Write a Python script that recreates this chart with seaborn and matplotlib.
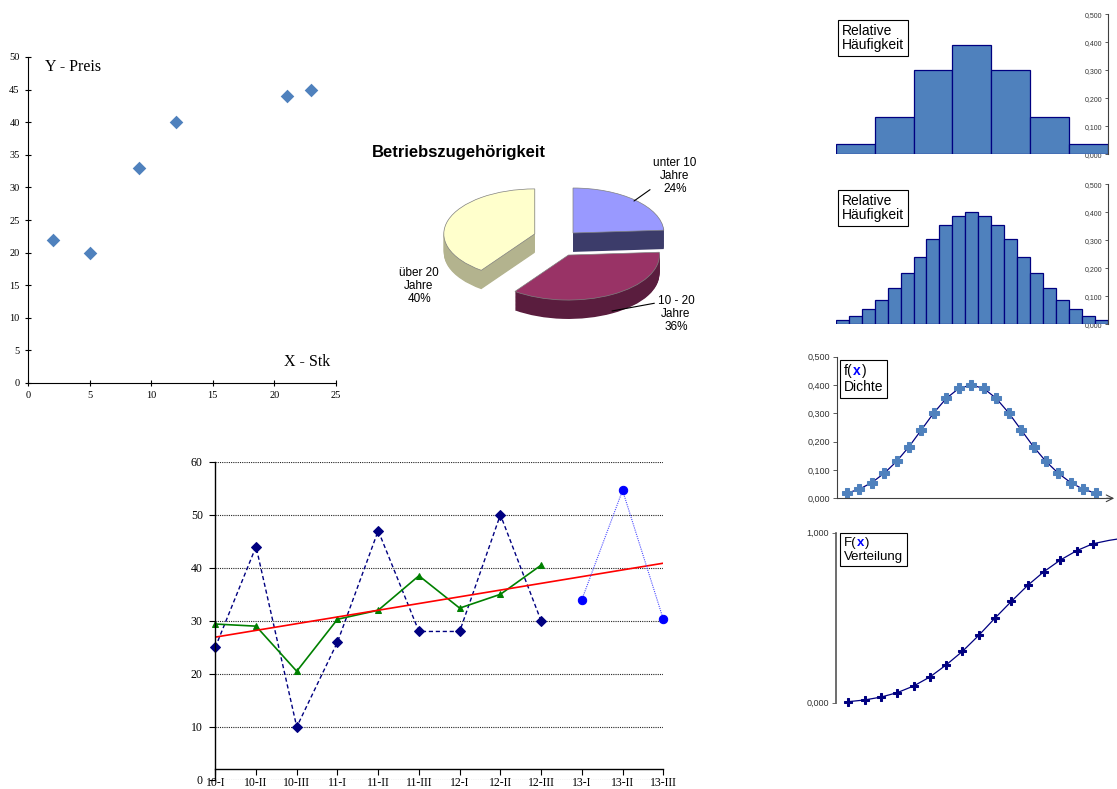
import numpy as np
import matplotlib
matplotlib.use('Agg')
import matplotlib.pyplot as plt
import seaborn as sns
from matplotlib.ticker import FuncFormatter
from matplotlib.offsetbox import TextArea, HPacker, VPacker, AnchoredOffsetbox

# Daten
scatter_x = [2, 5, 9, 12, 21, 23]
scatter_y = [22, 20, 33, 40, 44, 45]

pie_values = [24, 36, 40]
pie_labels = ['unter 10\nJahre\n24%', '10 - 20\nJahre\n36%', 'über 20\nJahre\n40%']

hist_grob = [0.035, 0.133, 0.300, 0.392, 0.300, 0.133, 0.035]
hist_fein = [0.016, 0.031, 0.054, 0.087, 0.129, 0.182, 0.242, 0.303, 0.354, 0.388, 0.400,
             0.388, 0.354, 0.303, 0.242, 0.182, 0.129, 0.087, 0.054, 0.031, 0.016]
dichte = [0.018, 0.032, 0.055, 0.088, 0.130, 0.182, 0.242, 0.302, 0.353, 0.388, 0.400,
          0.388, 0.353, 0.302, 0.242, 0.182, 0.130, 0.088, 0.055, 0.032, 0.018]
verteilung = [0.006, 0.016, 0.033, 0.059, 0.098, 0.151, 0.222, 0.302, 0.396, 0.498,
              0.596, 0.690, 0.771, 0.839, 0.894, 0.935, 0.955, 0.970]

quartale = ['10-I', '10-II', '10-III', '11-I', '11-II', '11-III',
            '12-I', '12-II', '12-III', '13-I', '13-II', '13-III']
ist_werte = [25, 44, 10, 26, 47, 28, 28, 50, 30]
geglaettet = [29.4, 29.0, 20.5, 30.3, 32.0, 38.5, 32.4, 35.0, 40.5]
prognose = [34.0, 54.6, 30.3]

sns.set_theme(style='white')
plt.rcParams['font.family'] = ['Liberation Sans', 'DejaVu Sans']
plt.rcParams['text.color'] = 'black'
SERIF = 'Liberation Serif'

W, H = 1117, 789
fig = plt.figure(figsize=(W / 100, H / 100), dpi=100, facecolor='white')


def ax_px(l, t, r, b):
    return fig.add_axes([l / W, 1 - b / H, (r - l) / W, (b - t) / H])


komma = FuncFormatter(lambda v, _: f'{v:.3f}'.replace('.', ','))

# Streudiagramm
ax1 = ax_px(28, 57, 336, 383)
sns.scatterplot(x=scatter_x, y=scatter_y, marker='D', s=48, color='#4F81BD', linewidth=0, ax=ax1)
ax1.set_xlim(0, 25)
ax1.set_ylim(0, 50)
ax1.set_xticks(range(0, 26, 5))
ax1.set_yticks(range(0, 51, 5))
ax1.spines[['top', 'right']].set_visible(False)
for s in ('left', 'bottom'):
    ax1.spines[s].set_color('black')
    ax1.spines[s].set_linewidth(0.8)
ax1.tick_params(left=True, bottom=True, direction='inout', length=4, width=0.8,
                labelsize=7.5, pad=4, colors='black', labelfontfamily=SERIF)
ax1.text(0.055, 0.969, 'Y - Preis', transform=ax1.transAxes, family=SERIF, fontsize=11.5, va='center')
ax1.text(0.98, 0.064, 'X - Stk', transform=ax1.transAxes, family=SERIF, fontsize=11.5,
         va='center', ha='right')

# 3D-Kreisdiagramm
ax2 = ax_px(380, 140, 720, 345)
RX, RY, CX, CY = 91, 45, 573, 233
pie_top = ['#9999FF', '#993366', '#FFFFCC']
pie_side = ['#3C3C6A', '#5A1D3E', '#B3B38E']
pie_shift = [(0, 0), (-0.05, -0.49), (-0.42, -0.02)]
tiefe, n = 0.42, 24
for k in range(n, -1, -1):
    d = tiefe * k / n
    oben = k == 0
    wedges, _ = ax2.pie(pie_values, startangle=90, counterclock=False,
                        colors=pie_top if oben else pie_side,
                        wedgeprops=dict(linewidth=0.5 if oben else 0, edgecolor='#808080'))
    for w, (sx, sy) in zip(wedges, pie_shift):
        w.set_center((sx, sy - d))
ax2.set_aspect('auto')
ax2.set_xlim((380 - CX) / RX, (720 - CX) / RX)
ax2.set_ylim(-(345 - CY) / RY, (CY - 140) / RY)
ax2.axis('off')


def pxd(px, py):
    return ((px - CX) / RX, (CY - py) / RY)


lbl = dict(ha='center', va='center', fontsize=8.5, linespacing=1.1, color='black')
ax2.annotate(pie_labels[0], xy=pxd(634, 201), xytext=pxd(675, 176), **lbl,
             arrowprops=dict(arrowstyle='-', color='black', lw=0.8, relpos=(0, 0.2), shrinkA=0, shrinkB=0))
ax2.annotate(pie_labels[1], xy=pxd(612, 311), xytext=pxd(676, 314), **lbl,
             arrowprops=dict(arrowstyle='-', color='black', lw=0.8, relpos=(0, 0.8), shrinkA=0, shrinkB=0))
ax2.text(*pxd(419, 286), pie_labels[2], **lbl)
fig.text(372 / W, 1 - 152 / H, 'Betriebszugehörigkeit', fontsize=12, weight='bold', va='center',
         color='black')

# Histogramme
for werte, (t, b) in ((hist_grob, (14.3, 154.3)), (hist_fein, (184.3, 324.3))):
    ax = ax_px(835.7, t, 1108, b)
    sns.barplot(x=np.arange(len(werte)), y=werte, color='#4F81BD', saturation=1, width=1,
                edgecolor='#000080', linewidth=0.9, errorbar=None, ax=ax)
    ax.set_xlim(-0.5, len(werte) - 0.5)
    ax.set_ylim(0, 0.5)
    ax.set_yticks(np.arange(0, 0.51, 0.1))
    ax.yaxis.set_major_formatter(komma)
    ax.set_xticks([])
    ax.set(xlabel='', ylabel='')
    ax.spines[['top', 'right', 'bottom']].set_visible(False)
    ax.spines['left'].set_position(('axes', 1.0))
    ax.spines['left'].set_color('#404040')
    ax.spines['left'].set_linewidth(0.8)
    ax.tick_params(axis='y', left=True, direction='out', length=2.5, width=0.6,
                   labelsize=5, pad=1.5, colors='#404040', labelcolor='#333333')
    ax.text(0.023, 0.93, 'Relative\nHäufigkeit', transform=ax.transAxes, ha='left', va='top',
            fontsize=10, linespacing=1.0,
            bbox=dict(boxstyle='square,pad=0.3', fc='white', ec='black', lw=0.8))


def fx_box(ax, buchstabe, wort, size, xy):
    props = dict(fontsize=size, color='black')
    zeile = HPacker(children=[TextArea(buchstabe + '(', textprops=props),
                              TextArea('x', textprops=dict(props, color='#0000FF', weight='bold')),
                              TextArea(')', textprops=props)],
                    pad=0, sep=0.5, align='baseline')
    spalte = VPacker(children=[zeile, TextArea(wort, textprops=props)], pad=0, sep=1.5, align='left')
    box = AnchoredOffsetbox(loc='upper left', child=spalte, pad=0.25, borderpad=0, frameon=True,
                            bbox_to_anchor=xy, bbox_transform=ax.transAxes)
    box.patch.set_edgecolor('black')
    box.patch.set_linewidth(0.8)
    box.zorder = 5
    ax.add_artist(box)


# Dichte
ax5 = ax_px(837.3, 356.7, 1112, 498.3)
sns.lineplot(x=np.arange(len(dichte)), y=dichte, color='#000080', lw=0.9, marker='P',
             markersize=6.5, markerfacecolor='#4F81BD', markeredgecolor='#4F81BD', ax=ax5)
ax5.set_xlim(-0.755, 21.3)
ax5.set_ylim(0, 0.5)
ax5.set_yticks(np.arange(0, 0.51, 0.1))
ax5.yaxis.set_major_formatter(komma)
ax5.set_xticks([])
ax5.spines[['top', 'right']].set_visible(False)
for s in ('left', 'bottom'):
    ax5.spines[s].set_color('#404040')
    ax5.spines[s].set_linewidth(0.8)
ax5.tick_params(axis='y', left=True, direction='out', length=3, width=0.6,
                labelsize=6.5, pad=2, colors='#404040', labelcolor='#333333')
ax5.annotate('', xy=(1.018, 0), xytext=(0.97, 0), xycoords='axes fraction',
             arrowprops=dict(arrowstyle='->', lw=0.8, color='#404040'), annotation_clip=False)
fx_box(ax5, 'f', 'Dichte', 10, (0.01, 0.977))

# Verteilung
ax6 = ax_px(835.7, 532.7, 1117, 702.7)
sns.lineplot(x=np.arange(len(verteilung)), y=verteilung, color='#000080', lw=0.9, marker='P',
             markersize=5.5, markerfacecolor='#000080', markeredgecolor='#000080',
             markevery=list(range(16)), clip_on=False, ax=ax6)
ax6.set_xlim(-0.773, 16.48)
ax6.set_ylim(0, 1)
ax6.set_yticks([0, 1])
ax6.yaxis.set_major_formatter(komma)
ax6.set_xticks([])
ax6.spines[['top', 'right', 'bottom']].set_visible(False)
ax6.spines['left'].set_color('#555555')
ax6.spines['left'].set_linewidth(1.2)
ax6.tick_params(axis='y', left=True, direction='out', length=3, width=0.6,
                labelsize=6.5, pad=2, colors='#555555', labelcolor='#333333')
fx_box(ax6, 'F', 'Verteilung', 9.5, (0.015, 1.0))

# Zeitreihe
ax7 = ax_px(215.3, 461.7, 663.3, 780)
xs = np.arange(len(quartale))
sns.lineplot(x=xs[:9], y=ist_werte, color='#000080', lw=1, linestyle=(0, (3, 2)), marker='D',
             markersize=5, markerfacecolor='#000080', markeredgecolor='#000080', clip_on=False, ax=ax7)
sns.lineplot(x=xs[:9], y=geglaettet, color='#008000', lw=1.2, marker='^', markersize=5,
             markerfacecolor='#008000', markeredgecolor='#008000', clip_on=False, ax=ax7)
trend = np.polyfit(xs[:9], ist_werte, 1)
sns.lineplot(x=xs[[0, -1]], y=np.polyval(trend, xs[[0, -1]]), color='#FF0000', lw=1.2, ax=ax7)
sns.lineplot(x=xs[9:], y=prognose, color='#4D4DFF', lw=0.8, linestyle=(0, (1, 1)), marker='o',
             markersize=6, markerfacecolor='#0000FF', markeredgecolor='#0000FF', clip_on=False, ax=ax7)
ax7.set_xlim(0, 11)
ax7.set_ylim(0, 60)
ax7.set_yticks(range(0, 61, 10))
ax7.set_xticks(xs)
ax7.set_xticklabels(quartale)
ax7.yaxis.grid(True, linestyle=(0, (1, 1)), color='#222222', lw=0.8)
ax7.set_axisbelow(True)
ax7.spines[['top', 'right']].set_visible(False)
ax7.spines['bottom'].set_position(('data', 2))
for s in ('left', 'bottom'):
    ax7.spines[s].set_color('black')
    ax7.spines[s].set_linewidth(1)
ax7.tick_params(left=True, bottom=True, direction='out', length=4, width=0.8, labelsize=8.5,
                colors='black', labelfontfamily=SERIF)
ax7.tick_params(axis='x', pad=1.5)
ax7.tick_params(axis='y', pad=5)
ax7.set(xlabel='', ylabel='')

fig.savefig('out.png', dpi=100, facecolor='white')
